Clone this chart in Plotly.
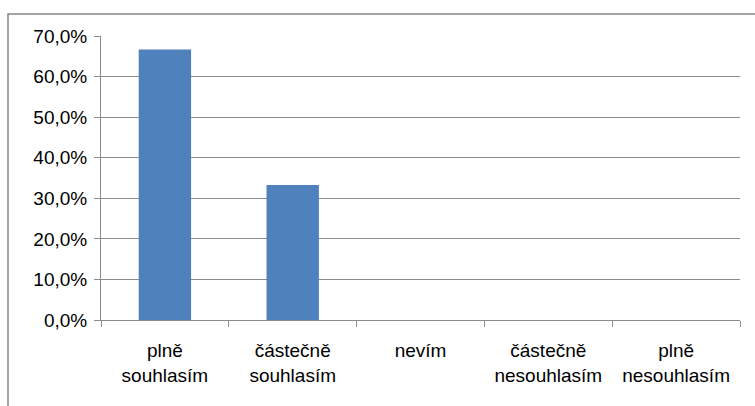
import plotly.graph_objects as go

# Survey answers and their shares
categories = ["plně<br>souhlasím", "částečně<br>souhlasím", "nevím",
              "částečně<br>nesouhlasím", "plně<br>nesouhlasím"]
shares = [0.667, 0.333, 0.0, 0.0, 0.0]
y_ticks = [0.0, 0.1, 0.2, 0.3, 0.4, 0.5, 0.6, 0.7]
y_tick_labels = ["0,0%", "10,0%", "20,0%", "30,0%", "40,0%", "50,0%", "60,0%", "70,0%"]

W, H = 755, 406
ML, MR, MT, MB = 101, 15, 36, 86
pw, ph = W - ML - MR, H - MT - MB

grid_col = "#8c8c8c"
font = dict(family="Liberation Sans, Arial, sans-serif", size=19, color="#000000")

fig = go.Figure(go.Bar(
    x=categories, y=shares,
    marker=dict(color="#4F81BD", line=dict(width=0)),
    width=0.41,
))

fig.update_layout(
    width=W, height=H,
    margin=dict(l=ML, r=MR, t=MT, b=MB),
    paper_bgcolor="white", plot_bgcolor="white",
    showlegend=False,
    font=font,
)

fig.update_xaxes(
    type="category",
    showline=True, linecolor=grid_col, linewidth=1,
    ticks="outside", ticklen=6, tickcolor=grid_col, tickwidth=1,
    tickson="boundaries",
    showgrid=False, zeroline=False,
    tickfont=font,
    ticklabelstandoff=13,
)

fig.update_yaxes(
    range=[0, 0.7],
    tickvals=y_ticks, ticktext=y_tick_labels,
    showline=True, linecolor=grid_col, linewidth=1,
    ticks="outside", ticklen=6, tickcolor=grid_col, tickwidth=1,
    showgrid=True, gridcolor=grid_col, gridwidth=1,
    zeroline=False,
    tickfont=font,
    ticklabelstandoff=3,
)

# Outer chart frame, open towards the right and bottom edges
x0 = (8 - ML) / pw
y0 = 1 + (MT - 14) / ph
x1 = (W + 5 - ML) / pw
y1 = -(MB + 5) / ph
fig.add_shape(type="rect", xref="paper", yref="paper",
              x0=x0, y0=y1, x1=x1, y1=y0,
              line=dict(color="#868686", width=1.5), layer="below")

fig.write_html("out.html")
